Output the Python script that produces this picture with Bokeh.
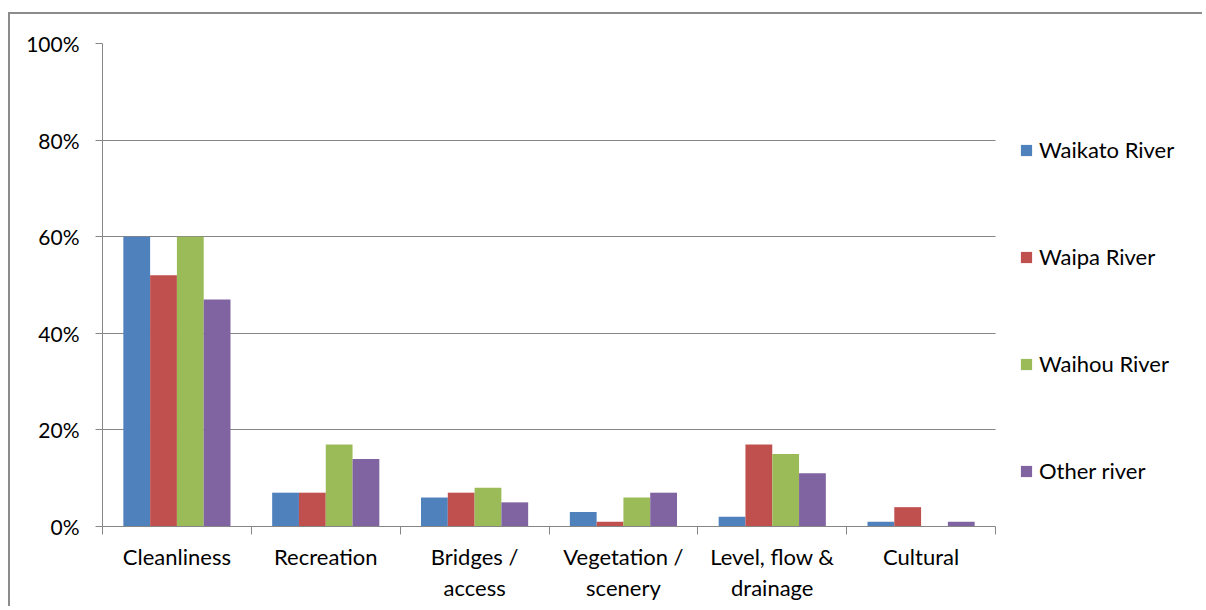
from bokeh.plotting import figure
from bokeh.models import ColumnDataSource, FixedTicker, PrintfTickFormatter, Legend, LegendItem, Range1d
from bokeh.transform import dodge
from bokeh.embed import file_html
from bokeh.resources import INLINE

categories = ["Cleanliness", "Recreation", "Bridges /\naccess", "Vegetation /\nscenery",
              "Level, flow &\ndrainage", "Cultural"]
series = ["Waikato River", "Waipa River", "Waihou River", "Other river"]
waikato = [60, 7, 6, 3, 2, 1]
waipa = [52, 7, 7, 1, 17, 4]
waihou = [60, 17, 8, 6, 15, 0]
other = [47, 14, 5, 7, 11, 1]
y_ticks = [0, 20, 40, 60, 80, 100]
colors = ["#4F81BD", "#C0504D", "#9BBB59", "#8064A2"]

FONT = "Lato"
FS = "22px"
FS_Y = "21px"
GRAY = "#868686"

W, H = 1194, 594
ML, MT, MR, MB = 92, 29, 0, 82
FW = W - ML - MR          # full frame width (bars + legend area)
DATA_W = 893              # pixel width of the category area
N = len(categories)

centers = [i + 0.5 for i in range(N)]
src = ColumnDataSource(dict(x=centers, s0=waikato, s1=waipa, s2=waihou, s3=other))

p = figure(width=W, height=H, x_range=Range1d(0, N * FW / DATA_W), y_range=Range1d(0, 100),
           output_backend="svg", toolbar_location=None,
           min_border_left=ML, min_border_top=MT, min_border_right=MR, min_border_bottom=MB)
p.outline_line_color = None
p.background_fill_color = "white"
p.border_fill_color = "white"

bw = 0.18
offsets = [-1.5 * bw, -0.5 * bw, 0.5 * bw, 1.5 * bw]
renderers = []
for k in range(4):
    r = p.vbar(x=dodge("x", offsets[k], range=p.x_range), top="s%d" % k, width=bw, bottom=0,
               source=src, fill_color=colors[k], line_color=None)
    renderers.append(r)

# x axis
xa = p.xaxis[0]
xa.bounds = (0, N)
xa.ticker = FixedTicker(ticks=centers, minor_ticks=list(range(N + 1)))
xa.major_label_overrides = {c: lab for c, lab in zip(centers, categories)}
xa.major_tick_line_color = None
xa.minor_tick_line_color = GRAY
xa.minor_tick_out = 8
xa.minor_tick_in = 0
xa.axis_line_color = GRAY
xa.major_label_text_font = FONT
xa.major_label_text_font_size = FS
xa.major_label_text_color = "black"
xa.major_label_text_line_height = 1.15
xa.major_label_standoff = 8

# y axis
ya = p.yaxis[0]
ya.ticker = FixedTicker(ticks=y_ticks)
ya.formatter = PrintfTickFormatter(format="%d%%")
ya.major_tick_out = 7
ya.major_tick_in = 0
ya.minor_tick_line_color = None
ya.major_tick_line_color = GRAY
ya.axis_line_color = GRAY
ya.major_label_text_font = FONT
ya.major_label_text_font_size = FS_Y
ya.major_label_text_color = "black"
ya.major_label_standoff = 16

p.xgrid.grid_line_color = None
grid = p.ygrid[0]
if "cross_bounds" in grid.properties():
    grid.ticker = FixedTicker(ticks=y_ticks)
    grid.cross_bounds = (0, N)
    grid.grid_line_color = GRAY
    grid.grid_line_width = 1
else:
    grid.grid_line_color = None
    p.segment(x0=[0] * len(y_ticks), x1=[N] * len(y_ticks), y0=y_ticks, y1=y_ticks,
              line_color=GRAY, line_width=1, level="underlay")

legend = Legend(items=[LegendItem(label=s, renderers=[r]) for s, r in zip(series, renderers)],
                location=(DATA_W + 24, 42))
legend.glyph_width = 14
legend.glyph_height = 14
legend.label_text_font = FONT
legend.label_text_font_size = FS
legend.label_text_color = "black"
legend.label_standoff = 6
legend.label_height = 27
legend.spacing = 80
legend.padding = 0
legend.margin = 0
legend.border_line_color = None
legend.background_fill_alpha = 0
p.add_layout(legend, "center")

p.styles = {"border-top": "2px solid #8c8c8c", "border-left": "2px solid #8c8c8c",
            "margin-top": "12px", "margin-left": "8px"}

open("out.html", "w").write(file_html(p, INLINE))
